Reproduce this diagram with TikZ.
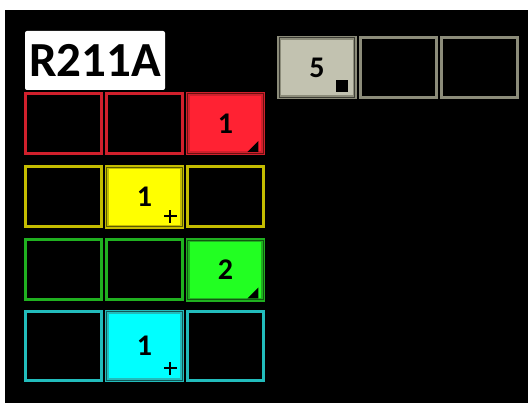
\documentclass[tikz,border=0pt]{standalone}
\usepackage{fontspec}
\setmainfont{Carlito}
\definecolor{redline}{HTML}{D0202C}
\definecolor{redfill}{HTML}{FF2233}
\definecolor{reddark}{HTML}{6A1010}
\definecolor{yelline}{HTML}{C4BC00}
\definecolor{yelfill}{HTML}{FFFF00}
\definecolor{yeldark}{HTML}{5A5A00}
\definecolor{grnline}{HTML}{20B020}
\definecolor{grnfill}{HTML}{22FF22}
\definecolor{grndark}{HTML}{105A10}
\definecolor{cyaline}{HTML}{22BCBC}
\definecolor{cyafill}{HTML}{00FFFF}
\definecolor{cyadark}{HTML}{105858}
\definecolor{gryline}{HTML}{8C8C7A}
\definecolor{gryfill}{HTML}{C2C2B0}
\definecolor{grydark}{HTML}{3C3C34}

\begin{document}
\begin{tikzpicture}[x=1pt,y=-1pt]
\tikzset{
  cell/.style={rectangle,draw=#1,line width=3pt,minimum width=76pt,minimum height=60pt,inner sep=0pt},
  fullcell/.style n args={3}{rectangle,draw=#1,double=#3,line width=1.3pt,double distance=1pt,
    fill=#2,minimum width=75.5pt,minimum height=59.5pt,inner sep=0pt,
    font=\fontsize{30}{30}\selectfont\bfseries},
  tall/.style={minimum height=69pt},
  tagbox/.style={rectangle,fill=white,rounded corners=2pt,minimum width=140pt,minimum height=59pt,
    inner sep=0pt,font=\fontsize{49}{49}\selectfont\bfseries},
  cornermark/.style={fill=black},
  plusmark/.style={line width=2pt}
}
\useasboundingbox (0,0) rectangle (528,403);
\fill[black] (5,10) rectangle (528,403);
% label
\node[tagbox] (tag) at (95,60.5) {R211A};
% red row
\node[cell=redline] (r_1) at (63.5,123.5) {};
\node[cell=redline] (r_2) at (144.5,123.5) {};
\node[fullcell={redline}{redfill}{reddark}] (r_3) at (225.5,123.5) {1};
% yellow row
\node[cell=yelline] (y_1) at (63.5,197) {};
\node[fullcell={yelline}{yelfill}{yeldark}] (y_2) at (144.5,197) {1};
\node[cell=yelline] (y_3) at (225.5,197) {};
% green row
\node[cell=grnline] (g_1) at (63.5,270) {};
\node[cell=grnline] (g_2) at (144.5,270) {};
\node[fullcell={grnline}{grnfill}{grndark}] (g_3) at (225.5,270) {2};
% cyan row
\node[cell=cyaline,tall] (c_1) at (63.5,346) {};
\node[fullcell={cyaline}{cyafill}{cyadark},minimum height=68.5pt] (c_2) at (144.5,346) {1};
\node[cell=cyaline,tall] (c_3) at (225.5,346) {};
% gray row
\node[fullcell={gryline}{gryfill}{grydark}] (k_1) at (317,67.5) {5};
\node[cell=gryline] (k_2) at (398,67.5) {};
\node[cell=gryline] (k_3) at (479,67.5) {};
% corner marks
\fill[cornermark] ([shift={(-5.5,-2)}]r_3.south east) -- ++(-11,0) -- ++(11,-11) -- cycle;
\fill[cornermark] ([shift={(-5.5,-2)}]g_3.south east) -- ++(-11,0) -- ++(11,-11) -- cycle;
\fill[cornermark] ([shift={(-7,-5.5)}]k_1.south east) rectangle ++(-12,-12);
\draw[plusmark] ([shift={(-12.5,-4.5)}]y_2.south east) -- ++(0,-13);
\draw[plusmark] ([shift={(-6,-11)}]y_2.south east) -- ++(-13,0);
\draw[plusmark] ([shift={(-12.5,-6)}]c_2.south east) -- ++(0,-13);
\draw[plusmark] ([shift={(-6,-12.5)}]c_2.south east) -- ++(-13,0);
\end{tikzpicture}
\end{document}
